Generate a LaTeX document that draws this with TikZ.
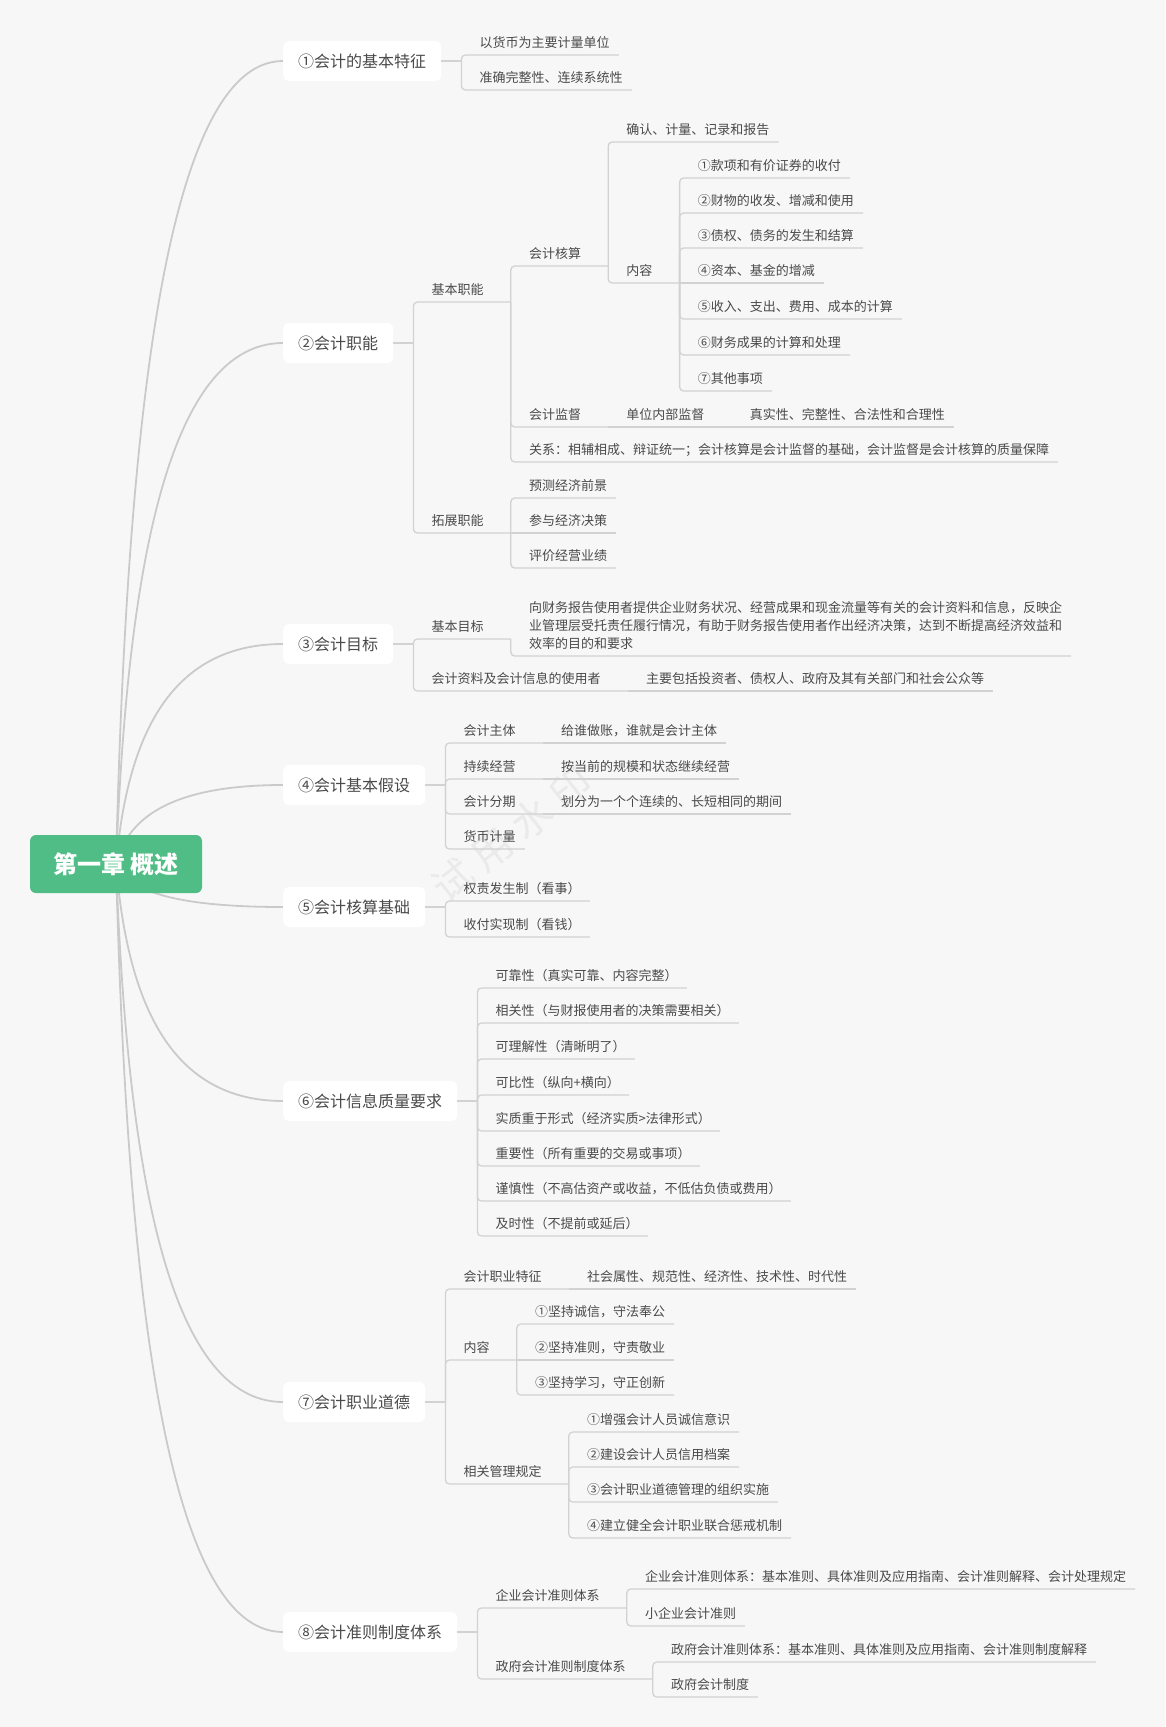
\documentclass[tikz,border=0pt]{standalone}
\usepackage{fontspec}
\setmainfont{Noto Sans CJK SC}
\usetikzlibrary{calc}
\definecolor{bgc}{HTML}{F7F7F7}
\definecolor{rootc}{HTML}{4FBD85}
\definecolor{txt}{HTML}{4A4A4A}
\definecolor{ulc}{HTML}{D2D2D2}
\definecolor{cvc}{HTML}{CACACA}
\definecolor{wmc}{HTML}{EAEAEA}
\pgfdeclarelayer{bgl}
\pgfdeclarelayer{lnl}
\pgfsetlayers{bgl,lnl,main}
\begin{document}
\begin{tikzpicture}[x=1pt,y=-1pt,
  leaf/.style={anchor=south west, inner sep=0pt, text depth=7pt, font=\fontsize{13}{18}\selectfont, text=txt},
  br/.style={draw=ulc, line width=1.3pt, rounded corners=4pt},
  lvone/.style={anchor=west, fill=white, rounded corners=6pt, inner xsep=15pt, inner ysep=0pt, minimum height=40pt, font=\fontsize{16}{20}\selectfont, text=txt},
  rootbox/.style={fill=rootc, rounded corners=6pt, minimum width=172pt, minimum height=58pt, inner sep=0pt, text=white, font=\fontsize{24}{28}\selectfont\bfseries},
  cv/.style={draw=cvc, line width=1.8pt},
]
\begin{pgfonlayer}{bgl}
\fill[bgc] (0,0) rectangle (1165,1727);
\end{pgfonlayer}
\useasboundingbox (0,0) rectangle (1165,1727);

% level one
\node[lvone] (n1) at (283,61) {①会计的基本特征};
\node[lvone] (n2) at (283,343) {②会计职能};
\node[lvone] (n3) at (283,644) {③会计目标};
\node[lvone] (n4) at (283,785) {④会计基本假设};
\node[lvone] (n5) at (283,907) {⑤会计核算基础};
\node[lvone] (n6) at (283,1101) {⑥会计信息质量要求};
\node[lvone] (n7) at (283,1402) {⑦会计职业道德};
\node[lvone] (n8) at (283,1632) {⑧会计准则制度体系};
\node[rootbox] (root) at (116,864) {第一章 概述};

\begin{pgfonlayer}{lnl}
\node[text=wmc, font=\fontsize{40}{44}\selectfont, rotate=38] (wm) at (512,834) {试\hspace{10pt}用\hspace{10pt}水\hspace{10pt}印};
\foreach \n/\m in {n1/462, n2/604, n3/754, n4/825, n5/886, n6/983, n7/1133, n8/1248}
  \draw[cv] (root.center) .. controls (126,\m) and ($(\n.west)+(-123,0)$) .. (\n.west);
\end{pgfonlayer}

\foreach \i in {1,...,8} {
  \coordinate (j\i) at ([xshift=20pt]n\i.east);
  \draw[br] (n\i.east) -- (j\i);
}

% group 1
\node[leaf] (a1) at ($(j1|-0,55)+(18,0)$) {以货币为主要计量单位};
\node[leaf] (a2) at ($(j1|-0,90)+(18,0)$) {准确完整性、连续系统性};
\draw[br] (j1) |- ([xshift=9pt]a1.south east);
\draw[br] (j1) |- ([xshift=9pt]a2.south east);

% group 2
\node[leaf] (b1) at ($(j2|-0,302)+(18,0)$) {基本职能};
\draw[br] (j2) |- ([xshift=27pt]b1.south east) coordinate (jb1);
\node[leaf] (b2) at ($(j2|-0,533)+(18,0)$) {拓展职能};
\draw[br] (j2) |- ([xshift=27pt]b2.south east) coordinate (jb2);

\node[leaf] (c1) at ($(jb1|-0,266)+(18,0)$) {会计核算};
\draw[br] (jb1) |- ([xshift=27pt]c1.south east) coordinate (jc1);
\node[leaf] (c2) at ($(jb1|-0,427)+(18,0)$) {会计监督};
\draw[br] (jb1) |- ([xshift=27pt]c2.south east) coordinate (jc2);
\node[leaf] (c3) at ($(jb1|-0,462)+(18,0)$) {关系：相辅相成、辩证统一；会计核算是会计监督的基础，会计监督是会计核算的质量保障};
\draw[br] (jb1) |- ([xshift=9pt]c3.south east);

\node[leaf] (d1) at ($(jc1|-0,142)+(18,0)$) {确认、计量、记录和报告};
\draw[br] (jc1) |- ([xshift=9pt]d1.south east);
\node[leaf] (d2) at ($(jc1|-0,283)+(18,0)$) {内容};
\draw[br] (jc1) |- ([xshift=27pt]d2.south east) coordinate (jd2);

\node[leaf] (e1) at ($(jd2|-0,178)+(18,0)$) {①款项和有价证券的收付};
\node[leaf] (e2) at ($(jd2|-0,213)+(18,0)$) {②财物的收发、增减和使用};
\node[leaf] (e3) at ($(jd2|-0,248)+(18,0)$) {③债权、债务的发生和结算};
\node[leaf] (e4) at ($(jd2)+(18,0)$) {④资本、基金的增减};
\node[leaf] (e5) at ($(jd2|-0,319)+(18,0)$) {⑤收入、支出、费用、成本的计算};
\node[leaf] (e6) at ($(jd2|-0,355)+(18,0)$) {⑥财务成果的计算和处理};
\node[leaf] (e7) at ($(jd2|-0,391)+(18,0)$) {⑦其他事项};
\draw[br] (jd2) |- ([xshift=9pt]e1.south east);
\draw[br] (jd2) |- ([xshift=9pt]e2.south east);
\draw[br] (jd2) |- ([xshift=9pt]e3.south east);
\draw[br] (jd2) -- ([xshift=9pt]e4.south east);
\draw[br] (jd2) |- ([xshift=9pt]e5.south east);
\draw[br] (jd2) |- ([xshift=9pt]e6.south east);
\draw[br] (jd2) |- ([xshift=9pt]e7.south east);

\node[leaf] (d3) at ($(jc2)+(18,0)$) {单位内部监督};
\draw[br] (jc2) -- ([xshift=27pt]d3.south east) coordinate (jd3);
\node[leaf] (d4) at ($(jd3)+(18,0)$) {真实性、完整性、合法性和合理性};
\draw[br] (jd3) -- ([xshift=9pt]d4.south east);

\node[leaf] (c4) at ($(jb2|-0,498)+(18,0)$) {预测经济前景};
\node[leaf] (c5) at ($(jb2)+(18,0)$) {参与经济决策};
\node[leaf] (c6) at ($(jb2|-0,568)+(18,0)$) {评价经营业绩};
\draw[br] (jb2) |- ([xshift=9pt]c4.south east);
\draw[br] (jb2) -- ([xshift=9pt]c5.south east);
\draw[br] (jb2) |- ([xshift=9pt]c6.south east);

% group 3
\node[leaf] (f1) at ($(j3|-0,639)+(18,0)$) {基本目标};
\draw[br] (j3) |- ([xshift=27pt]f1.south east) coordinate (jf1);
\node[leaf, align=left] (f2) at ($(jf1|-0,656)+(18,0)$) {向财务报告使用者提供企业财务状况、经营成果和现金流量等有关的会计资料和信息，反映企\\业管理层受托责任履行情况，有助于财务报告使用者作出经济决策，达到不断提高经济效益和\\效率的目的和要求};
\draw[br] (jf1) |- ([xshift=9pt]f2.south east);
\node[leaf] (f3) at ($(j3|-0,691)+(18,0)$) {会计资料及会计信息的使用者};
\draw[br] (j3) |- ([xshift=27pt]f3.south east) coordinate (jf3);
\node[leaf] (f4) at ($(jf3)+(18,0)$) {主要包括投资者、债权人、政府及其有关部门和社会公众等};
\draw[br] (jf3) -- ([xshift=9pt]f4.south east);

% group 4
\node[leaf] (g1) at ($(j4|-0,743)+(18,0)$) {会计主体};
\draw[br] (j4) |- ([xshift=27pt]g1.south east) coordinate (jg1);
\node[leaf] (g2) at ($(jg1)+(18,0)$) {给谁做账，谁就是会计主体};
\draw[br] (jg1) -- ([xshift=9pt]g2.south east);
\node[leaf] (g3) at ($(j4|-0,779)+(18,0)$) {持续经营};
\draw[br] (j4) |- ([xshift=27pt]g3.south east) coordinate (jg3);
\node[leaf] (g4) at ($(jg3)+(18,0)$) {按当前的规模和状态继续经营};
\draw[br] (jg3) -- ([xshift=9pt]g4.south east);
\node[leaf] (g5) at ($(j4|-0,814)+(18,0)$) {会计分期};
\draw[br] (j4) |- ([xshift=27pt]g5.south east) coordinate (jg5);
\node[leaf] (g6) at ($(jg5)+(18,0)$) {划分为一个个连续的、长短相同的期间};
\draw[br] (jg5) -- ([xshift=9pt]g6.south east);
\node[leaf] (g7) at ($(j4|-0,849)+(18,0)$) {货币计量};
\draw[br] (j4) |- ([xshift=9pt]g7.south east);

% group 5
\node[leaf] (h1) at ($(j5|-0,901)+(18,0)$) {权责发生制（看事）};
\node[leaf] (h2) at ($(j5|-0,937)+(18,0)$) {收付实现制（看钱）};
\draw[br] (j5) |- ([xshift=9pt]h1.south east);
\draw[br] (j5) |- ([xshift=9pt]h2.south east);

% group 6
\node[leaf] (k1) at ($(j6|-0,988)+(18,0)$) {可靠性（真实可靠、内容完整）};
\node[leaf] (k2) at ($(j6|-0,1023)+(18,0)$) {相关性（与财报使用者的决策需要相关）};
\node[leaf] (k3) at ($(j6|-0,1059)+(18,0)$) {可理解性（清晰明了）};
\node[leaf] (k4) at ($(j6|-0,1095)+(18,0)$) {可比性（纵向+横向）};
\node[leaf] (k5) at ($(j6|-0,1131)+(18,0)$) {实质重于形式（经济实质>法律形式）};
\node[leaf] (k6) at ($(j6|-0,1166)+(18,0)$) {重要性（所有重要的交易或事项）};
\node[leaf] (k7) at ($(j6|-0,1201)+(18,0)$) {谨慎性（不高估资产或收益，不低估负债或费用）};
\node[leaf] (k8) at ($(j6|-0,1236)+(18,0)$) {及时性（不提前或延后）};
\foreach \k in {k1,k2,k3,k4,k5,k6,k7,k8}
  \draw[br] (j6) |- ([xshift=9pt]\k.south east);

% group 7
\node[leaf] (m1) at ($(j7|-0,1289)+(18,0)$) {会计职业特征};
\draw[br] (j7) |- ([xshift=27pt]m1.south east) coordinate (jm1);
\node[leaf] (m2) at ($(jm1)+(18,0)$) {社会属性、规范性、经济性、技术性、时代性};
\draw[br] (jm1) -- ([xshift=9pt]m2.south east);
\node[leaf] (m3) at ($(j7|-0,1360)+(18,0)$) {内容};
\draw[br] (j7) |- ([xshift=27pt]m3.south east) coordinate (jm3);
\node[leaf] (m4) at ($(jm3|-0,1324)+(18,0)$) {①坚持诚信，守法奉公};
\node[leaf] (m5) at ($(jm3)+(18,0)$) {②坚持准则，守责敬业};
\node[leaf] (m6) at ($(jm3|-0,1395)+(18,0)$) {③坚持学习，守正创新};
\draw[br] (jm3) |- ([xshift=9pt]m4.south east);
\draw[br] (jm3) -- ([xshift=9pt]m5.south east);
\draw[br] (jm3) |- ([xshift=9pt]m6.south east);
\node[leaf] (m7) at ($(j7|-0,1484)+(18,0)$) {相关管理规定};
\draw[br] (j7) |- ([xshift=27pt]m7.south east) coordinate (jm7);
\node[leaf] (m8) at ($(jm7|-0,1432)+(18,0)$) {①增强会计人员诚信意识};
\node[leaf] (m9) at ($(jm7|-0,1467)+(18,0)$) {②建设会计人员信用档案};
\node[leaf] (m10) at ($(jm7|-0,1502)+(18,0)$) {③会计职业道德管理的组织实施};
\node[leaf] (m11) at ($(jm7|-0,1538)+(18,0)$) {④建立健全会计职业联合惩戒机制};
\foreach \k in {m8,m9,m10,m11}
  \draw[br] (jm7) |- ([xshift=9pt]\k.south east);

% group 8
\node[leaf] (p1) at ($(j8|-0,1608)+(18,0)$) {企业会计准则体系};
\draw[br] (j8) |- ([xshift=27pt]p1.south east) coordinate (jp1);
\node[leaf] (p2) at ($(jp1|-0,1589)+(18,0)$) {企业会计准则体系：基本准则、具体准则及应用指南、会计准则解释、会计处理规定};
\node[leaf] (p3) at ($(jp1|-0,1626)+(18,0)$) {小企业会计准则};
\draw[br] (jp1) |- ([xshift=9pt]p2.south east);
\draw[br] (jp1) |- ([xshift=9pt]p3.south east);
\node[leaf] (p4) at ($(j8|-0,1679)+(18,0)$) {政府会计准则制度体系};
\draw[br] (j8) |- ([xshift=27pt]p4.south east) coordinate (jp4);
\node[leaf] (p5) at ($(jp4|-0,1662)+(18,0)$) {政府会计准则体系：基本准则、具体准则及应用指南、会计准则制度解释};
\node[leaf] (p6) at ($(jp4|-0,1697)+(18,0)$) {政府会计制度};
\draw[br] (jp4) |- ([xshift=9pt]p5.south east);
\draw[br] (jp4) |- ([xshift=9pt]p6.south east);
\end{tikzpicture}
\end{document}
